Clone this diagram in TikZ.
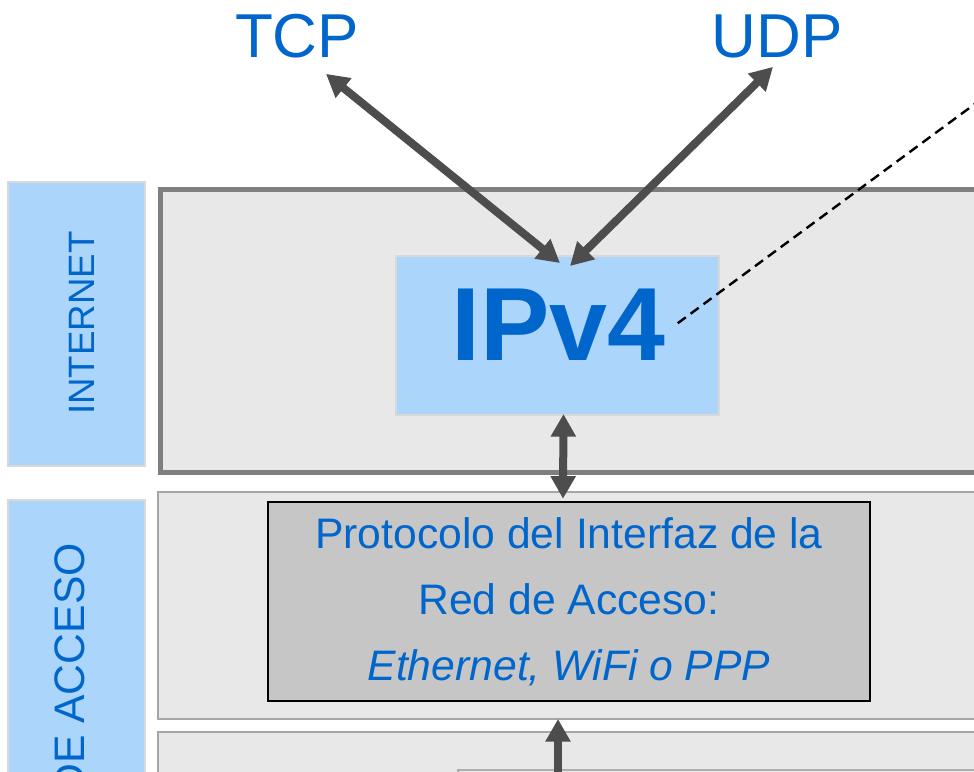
\documentclass[tikz,border=0pt]{standalone}
\usepackage{fontspec}
\setmainfont{Liberation Sans}
\usetikzlibrary{arrows.meta, calc}

\definecolor{tblue}{HTML}{0066CC}
\definecolor{lblue}{HTML}{ABD5FB}
\definecolor{laygray}{HTML}{E8E8E8}
\definecolor{boxgray}{HTML}{C6C6C6}
\definecolor{arrgray}{HTML}{4D4D4D}
\definecolor{edgegray}{HTML}{7F7F7F}
\definecolor{thingray}{HTML}{A6A6A6}
\definecolor{palegray}{HTML}{D9D9D9}

\tikzset{
  layer/.style={fill=laygray, draw=thingray, line width=1.5pt},
  tag/.style={fill=lblue, draw=palegray, line width=1.5pt},
  proto/.style={text=tblue, inner sep=0pt},
  biarrow/.style={draw=arrgray, line width=6pt, {Triangle[length=17pt,width=18pt]}-{Triangle[length=17pt,width=18pt]}},
  uparrow/.style={draw=arrgray, line width=6pt, -{Triangle[length=17pt,width=18pt]}},
  noteline/.style={draw=black, line width=1.8pt, dash pattern=on 7.5pt off 4.5pt},
}

\begin{document}
\begin{tikzpicture}[x=0.75pt, y=-0.75pt]
  \useasboundingbox (0,0) rectangle (974,771);
  \clip (0,0) rectangle (974,771);

  % layers and their tags
  \draw[tag] (8,182) rectangle (145,466);
  \draw[tag] (8,500) rectangle (145,800);
  \draw[layer, draw=edgegray, line width=3.75pt] (160,189) rectangle (990,472);
  \draw[layer] (158,492) rectangle (990,719);
  \draw[layer] (158,732) rectangle (990,800);
  \draw[draw=palegray!80!black, line width=1pt] (458,770) rectangle (990,830);

  \node[proto, rotate=90, font=\fontsize{27.5}{33}\selectfont] (inet) at (82,323) {INTERNET};
  \node[proto, rotate=90, anchor=east, font=\fontsize{32}{38}\selectfont] (acc) at (70,543) {DE ACCESO};

  % IPv4
  \node[fill=lblue, draw=palegray, line width=1.5pt, minimum width=242.25pt, minimum height=119.25pt, inner sep=0pt] (ipv4) at (557.5,335.5) {};
  \node[proto, anchor=base, font=\fontsize{78}{80}\selectfont\bfseries] (ipv4txt) at (558.5,360) {IPv4};

  \node[proto, anchor=base, font=\fontsize{46.5}{50}\selectfont] (tcp) at (297,57) {TCP};
  \node[proto, anchor=base, font=\fontsize{46.5}{50}\selectfont] (udp) at (777,57) {UDP};

  \node[fill=boxgray, draw=black, line width=1.9pt, minimum width=451.5pt, minimum height=149.25pt, align=center, text=tblue, font=\fontsize{32}{49.5}\selectfont] (prot) at (569,601.5) {Protocolo del Interfaz de la\\Red de Acceso:\\\textit{Ethernet, WiFi o PPP}};

  % arrows
  \draw[biarrow] ($(tcp.south)+(29,16)$) -- ($(ipv4.north)+(2.5,8)$);
  \draw[biarrow] ($(udp.south)+(-4,9)$) -- ($(ipv4.north)+(12.5,11)$);
  \draw[biarrow] ($(ipv4.south)+(6,-2)$) -- ($(prot.north)+(-6,-2)$);
  \coordinate (feed) at (558,800);
  \coordinate (l2base) at (558,719);
  \draw[uparrow] (feed) -- (l2base);

  % note
  \coordinate (note) at (1010,78);
  \draw[noteline] ($(ipv4txt.east)+(12,-1)$) -- (note);
\end{tikzpicture}
\end{document}
